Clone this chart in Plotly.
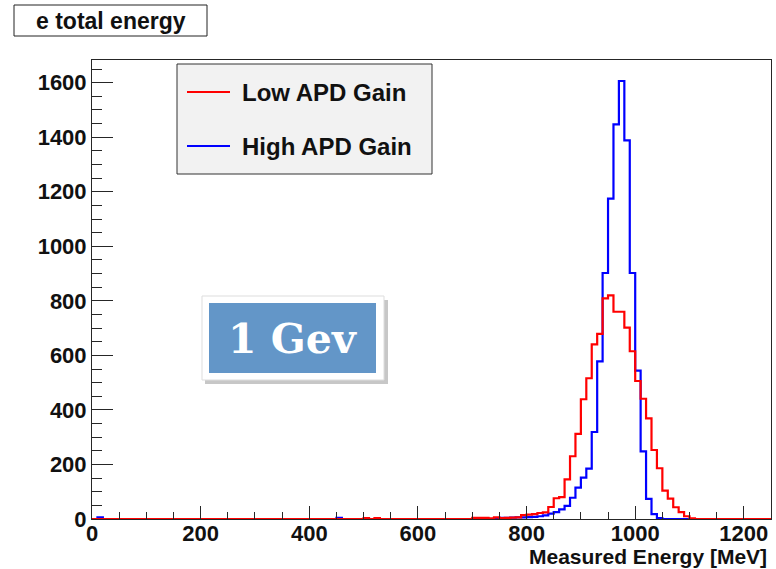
import plotly.graph_objects as go

# ---------------- data (10 MeV bins, 0 .. 1250 MeV) ----------------
bin_width = 10
n_bins = 125

# Low APD Gain: main block starting at 700 MeV
low_gain_start = 700
low_gain_counts = [4, 4, 4, 2, 6, 3, 4, 5, 6, 14,
                   16, 18, 22, 24, 44, 76, 80, 145, 230, 312,
                   439, 516, 640, 679, 809, 820, 760, 760, 702, 615,
                   506, 441, 369, 253, 186, 104, 75, 43, 25, 10,
                   2]
low_gain_isolated = {500: 3, 520: 3}

# High APD Gain: main block starting at 740 MeV
high_gain_start = 740
high_gain_counts = [3, 4, 4, 5, 6, 6,
                    7, 8, 10, 13, 20, 25, 35, 48, 78, 115,
                    152, 185, 319, 578, 902, 1175, 1447, 1606, 1388, 902,
                    544, 248, 74, 18, 3]
high_gain_isolated = {10: 6, 450: 4}

x_ticks = [0, 200, 400, 600, 800, 1000, 1200]
y_ticks = [0, 200, 400, 600, 800, 1000, 1200, 1400, 1600]


def build(start, block, isolated):
    h = [0] * n_bins
    for k, v in isolated.items():
        h[k // bin_width] = v
    s = start // bin_width
    for i, v in enumerate(block):
        h[s + i] = v
    return h


edges = [i * bin_width for i in range(n_bins + 1)]
low_h = build(low_gain_start, low_gain_counts, low_gain_isolated)
high_h = build(high_gain_start, high_gain_counts, high_gain_isolated)

# ---------------- figure ----------------
L, R, T, B = 92, 771, 60, 519
W, H = 776, 569


def px(x):
    return (x - L) / (R - L)


def py(y):
    return (B - y) / (B - T)


fig = go.Figure()
fig.add_trace(go.Scatter(x=edges, y=high_h + [high_h[-1]], mode="lines",
                         line=dict(color="#0000ff", width=2.2, shape="hv"),
                         name="High APD Gain", showlegend=False))
fig.add_trace(go.Scatter(x=edges, y=low_h + [low_h[-1]], mode="lines",
                         line=dict(color="#ff0000", width=2.2, shape="hv"),
                         name="Low APD Gain", showlegend=False))

axis_col = "#262626"
tickfont = dict(family="Liberation Sans, Arial, sans-serif", size=22, color="#111", weight="bold")

fig.update_xaxes(range=[0, 1250], tickvals=x_ticks, ticks="inside", ticklen=13,
                 tickwidth=1, tickcolor=axis_col, showline=True, linecolor=axis_col,
                 linewidth=1, mirror=True, showgrid=False, zeroline=False,
                 tickfont=tickfont, ticklabelstandoff=-5,
                 minor=dict(dtick=50, ticks="inside", ticklen=7, tickcolor=axis_col, showgrid=False))
fig.update_yaxes(range=[0, 1683], tickvals=y_ticks, ticks="inside", ticklen=21,
                 tickwidth=1, tickcolor=axis_col, showline=True, linecolor=axis_col,
                 linewidth=1, mirror=True, showgrid=False, zeroline=False,
                 tickfont=tickfont,
                 minor=dict(dtick=50, ticks="inside", ticklen=10, tickcolor=axis_col, showgrid=False))

shapes = []
annotations = []

# title box
shapes.append(dict(type="rect", xref="paper", yref="paper",
                   x0=px(14), x1=px(207), y0=py(36), y1=py(5),
                   line=dict(color="#222", width=1), fillcolor="white"))
annotations.append(dict(xref="paper", yref="paper", x=px(110.5), y=py(20.5),
                        text="e total energy", showarrow=False,
                        xanchor="center", yanchor="middle",
                        font=dict(family="Liberation Sans, Arial, sans-serif", size=23,
                                  color="#111", weight="bold")))

# legend box
shapes.append(dict(type="rect", xref="paper", yref="paper",
                   x0=px(177), x1=px(432), y0=py(174), y1=py(64),
                   line=dict(color="#333", width=1), fillcolor="#f2f2f2"))
legend_items = [("Low APD Gain", "#ff0000", 92), ("High APD Gain", "#0000ff", 146)]
for label, col, yy in legend_items:
    shapes.append(dict(type="line", xref="paper", yref="paper",
                       x0=px(187), x1=px(230), y0=py(yy), y1=py(yy),
                       line=dict(color=col, width=2.2)))
    annotations.append(dict(xref="paper", yref="paper", x=px(240), y=py(yy),
                            text=label, showarrow=False, xanchor="left", yanchor="middle",
                            font=dict(family="Liberation Sans, Arial, sans-serif", size=24,
                                      color="#111", weight="bold")))

# x-axis title (right aligned, ROOT style)
annotations.append(dict(xref="paper", yref="paper", x=px(769), y=py(556),
                        text="Measured Energy [MeV]", showarrow=False,
                        xanchor="right", yanchor="middle",
                        font=dict(family="Liberation Sans, Arial, sans-serif", size=21,
                                  color="#111", weight="bold")))

# "1 Gev" badge
shapes.append(dict(type="rect", xref="paper", yref="paper",
                   x0=px(205), x1=px(388), y0=py(384), y1=py(300),
                   line=dict(width=0), fillcolor="rgba(0,0,0,0.22)"))
shapes.append(dict(type="rect", xref="paper", yref="paper",
                   x0=px(202), x1=px(384), y0=py(380), y1=py(296),
                   line=dict(color="#dddddd", width=1), fillcolor="white"))
shapes.append(dict(type="rect", xref="paper", yref="paper",
                   x0=px(209), x1=px(376), y0=py(373), y1=py(303),
                   line=dict(width=0), fillcolor="#6396c8"))
annotations.append(dict(xref="paper", yref="paper", x=px(292), y=py(339),
                        text="1 Gev", showarrow=False, xanchor="center", yanchor="middle",
                        font=dict(family="DejaVu Serif, serif", size=41,
                                  color="white", weight="bold")))

fig.update_layout(width=W, height=H,
                  margin=dict(l=L, r=W - R, t=T, b=H - B),
                  paper_bgcolor="white", plot_bgcolor="white",
                  showlegend=False, shapes=shapes, annotations=annotations)

fig.write_html("out.html", config={"displayModeBar": False},
               post_script="document.body.style.margin='0';document.body.style.overflow='hidden';")
